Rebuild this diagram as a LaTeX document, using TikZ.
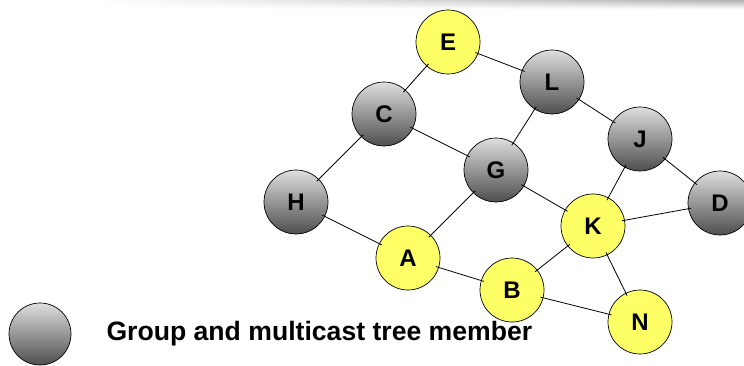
\documentclass[tikz,border=0pt]{standalone}
\usepackage{fontspec}
\setmainfont{Liberation Sans}
\usetikzlibrary{fadings}
\definecolor{memberyellow}{RGB}{255,255,102}
\definecolor{toplight}{RGB}{222,222,222}
\definecolor{bottomdark}{RGB}{78,78,78}
\tikzset{
  router/.style={circle, draw=black, line width=0.7pt, minimum size=64pt, inner sep=0pt,
    font=\fontsize{24}{24}\selectfont\bfseries},
  member/.style={router, top color=toplight, bottom color=bottomdark},
  receiver/.style={router, fill=memberyellow},
  link/.style={draw=black, line width=0.8pt, shorten <=-3pt, shorten >=-3pt},
}
\begin{document}
\begin{tikzpicture}[x=1pt, y=-1pt]
  \useasboundingbox (0,0) rectangle (744,366);
  % worn strip along the upper edge
  \shade[left color=white, right color=gray!60, path fading=south] (90,0) rectangle (744,9);

  % routers
  \node[receiver] (E) at (448,42) {E};
  \node[member]   (C) at (384,114) {C};
  \node[member]   (L) at (552,82) {L};
  \node[member]   (J) at (640,139) {J};
  \node[member]   (G) at (496,170) {G};
  \node[member]   (D) at (720,203) {D};
  \node[member]   (H) at (296,202) {H};
  \node[receiver] (K) at (593,226) {K};
  \node[receiver] (A) at (408,258) {A};
  \node[receiver] (B) at (512,290) {B};
  \node[receiver] (N) at (640,322) {N};

  % links
  \foreach \u/\v in {E/C, E/L, L/G, L/J, C/G, C/H, H/A, A/G, A/B, G/K, J/K, J/D, K/D, K/B, K/N, B/N}
    \path[link] (\u) -- (\v);

  % legend
  \node[member, minimum size=62pt] (key) at (40,334) {};
  \node[anchor=west, font=\fontsize{26.6}{26.6}\selectfont\bfseries] (keytext) at (103,334)
    {Group and multicast tree member};
\end{tikzpicture}
\end{document}
